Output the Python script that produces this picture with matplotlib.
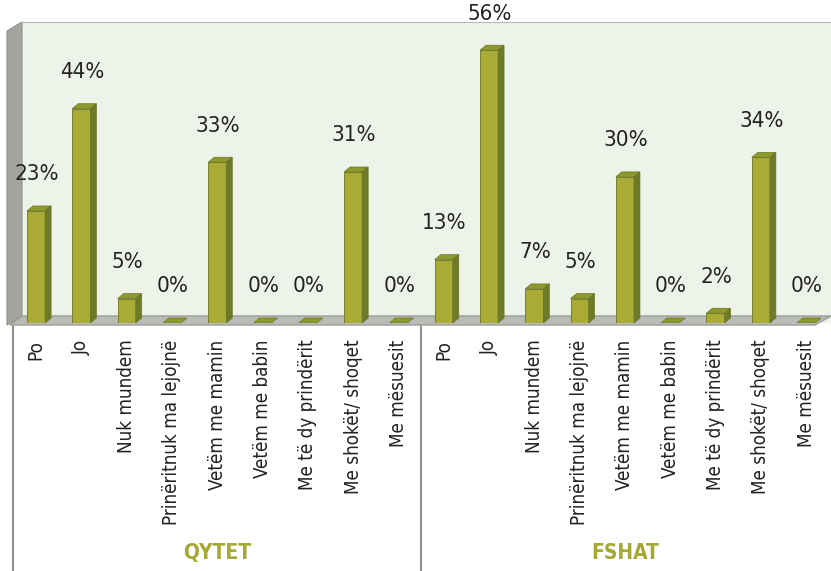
import matplotlib
matplotlib.use("Agg")
import matplotlib.pyplot as plt
from matplotlib import font_manager
from matplotlib.font_manager import FontProperties
from matplotlib.patches import Polygon
from matplotlib.transforms import blended_transform_factory
import numpy as np

categories = ['Po', 'Jo', 'Nuk mundem', 'Prinëritnuk ma lejojnë', 'Vetëm me mamin',
              'Vetëm me babin', 'Me të dy prindërit', 'Me shokët/ shoqet', 'Me mësuesit']
qytet = [23, 44, 5, 0, 33, 0, 0, 31, 0]
fshat = [13, 56, 7, 5, 30, 0, 2, 34, 0]
groups = ['QYTET', 'FSHAT']

values = qytet + fshat
labels = categories + categories
x = np.arange(len(values))


# pick a narrow font if one is installed (reference uses a condensed face)
def pick_font(bold=False):
    cands = []
    for f in font_manager.fontManager.ttflist:
        narrow = f.stretch in ('condensed', 'semi-condensed', 'extra-condensed') or \
            any(k in f.name for k in ('Condensed', 'Narrow'))
        if not narrow or f.style != 'normal':
            continue
        w = f.weight if isinstance(f.weight, int) else 400
        target = 700 if bold else 350
        cands.append((abs(w - target), f.fname))
    if cands:
        cands.sort()
        return FontProperties(fname=cands[0][1])
    return FontProperties(family='DejaVu Sans', weight='bold' if bold else 'normal')


fp = pick_font()
fpb = pick_font(bold=True)

W, H = 831, 571
fig = plt.figure(figsize=(W / 100, H / 100), dpi=100)
# axes box in pixels: left 22, right 831, top 22, bottom 323
ax = fig.add_axes([22 / W, (H - 323) / H, (W - 22) / W, (323 - 22) / H])
ymax = 61.8
ax.set_xlim(-0.31, 17.55)
ax.set_ylim(0, ymax)

# pixel -> data helpers
px_x = (17.55 + 0.31) / (W - 22)
px_y = ymax / (323 - 22)

front = '#a9ab36'
side = '#6e7a26'
top = '#8c9a2e'
edge = '#6b7524'

ax.set_facecolor('#eef3ea')
for s in ['left', 'bottom', 'right']:
    ax.spines[s].set_visible(False)
ax.spines['top'].set_color('#b5b8b2')

# left side wall
sw = Polygon([(-0.31, 1.5), (-0.31, ymax), (-0.31 - 15 * px_x, ymax - 9 * px_y),
              (-0.31 - 15 * px_x, -2 * px_y)], closed=True, facecolor='#a3a5a1',
             edgecolor='#8e908c', lw=0.8, clip_on=False, zorder=1)
ax.add_patch(sw)

# floor
fl = Polygon([(-0.31 - 12 * px_x, -2 * px_y), (17.55 - 16 * px_x, -2 * px_y),
              (17.55, 7 * px_y), (-0.31, 7 * px_y)], closed=True,
             facecolor='#b9bbb6', edgecolor='#9c9e9a', lw=1.0, clip_on=False, zorder=2)
ax.add_patch(fl)

bw = 0.4
dx = 6 * px_x
dy = 5 * px_y
ax.bar(x, values, width=bw, color=front, edgecolor=edge, linewidth=0.6, zorder=3)
for xi, v in zip(x, values):
    l, r = xi - bw / 2, xi + bw / 2
    ax.add_patch(Polygon([(l, v), (r, v), (r + dx, v + dy), (l + dx, v + dy)],
                         closed=True, facecolor=top, edgecolor=edge, lw=0.5, zorder=4))
    if v > 0:
        ax.add_patch(Polygon([(r, 0), (r + dx, dy), (r + dx, v + dy), (r, v)],
                             closed=True, facecolor=side, edgecolor=edge, lw=0.5, zorder=4))
    ax.text(xi + 0.02, v + 7.5, f'{v}%', ha='center', va='center', fontproperties=fp,
            fontsize=16, color='#222222', zorder=5)

ax.set_xticks(x)
ax.set_xticklabels(labels, rotation=90, va='top')
for t in ax.get_xticklabels():
    t.set_fontproperties(fp)
    t.set_fontsize(13.5)
    t.set_color('#222222')
ax.tick_params(axis='x', length=0, pad=12)
ax.set_yticks([])

# separators and group labels under the axis
tr = blended_transform_factory(ax.transData, fig.transFigure)
bottom_fig = (H - 325) / H
for sx in [-0.5, 8.5]:
    ax.plot([sx, sx], [0, bottom_fig], transform=tr, color='#8f918d', lw=1.5,
            clip_on=False, zorder=1)
for gx, g in zip([4, 13], groups):
    ax.text(gx, (H - 553) / H, g, transform=tr, ha='center', va='center',
            fontproperties=fpb, fontsize=15, color='#a5a832')

fig.savefig('out.png', dpi=100)
